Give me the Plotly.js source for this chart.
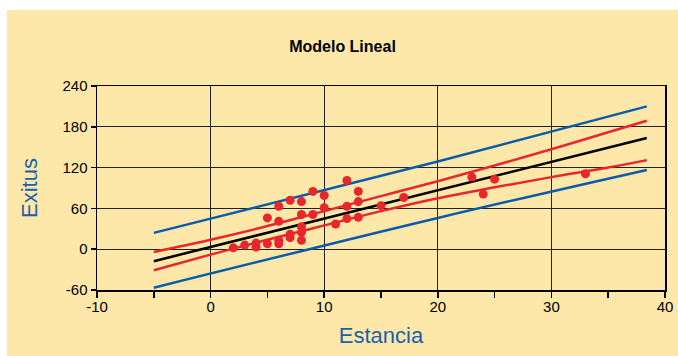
<!DOCTYPE html>
<html>
<head>
<meta charset="utf-8">
<script src="https://cdn.plot.ly/plotly-3.0.1.min.js"></script>
<style>
html,body{margin:0;padding:0;background:#ffffff;width:678px;height:356px;overflow:hidden;}
#chart{position:absolute;left:7px;top:10px;width:671px;height:346px;}
</style>
</head>
<body>
<div id="chart"></div>
<script>
// Observed data (Estancia vs Exitus)
const estancia = [2,3,4,4,5,5,6,6,6,6,7,7,7,8,8,8,8,8,9,9,10,10,11,12,12,12,13,13,13,15,17,23,24,25,33];
const exitus   = [2,6,3,9,46,8,63,41,13,8,72,22,17,70,51,33,25,13,85,51,79,61,37,101,63,45,85,70,47,64,76,106,81,103,111];

// Fitted line
const fitX = [-5, 38.4];
const fitY = [-17.6, 163.5];

// Confidence band (red)
const bandX = [-5, 0, 5, 10, 15, 20, 25, 30, 35, 38.4];
const confUpper = [-4, 14, 34, 56, 78, 100, 123, 147, 172, 189];
const confLower = [-31, -8, 14, 35, 56, 75, 91, 106, 120, 131];

// Prediction band (blue)
const predX = [-5, 20, 38.4];
const predUpper = [24, 129, 210];
const predLower = [-56.6, 46, 116.6];

// Tick labels
const xTickVals = [-10, 0, 10, 20, 30, 40];
const xTickText = ['-10', '0', '10', '20', '30', '40'];
const yTickVals = [-60, 0, 60, 120, 180, 240];
const yTickText = ['-60', '0', '60', '120', '180', '240'];

const RED = '#E8262C', BLUE = '#0B5BAA';

const traces = [
  {x: predX, y: predUpper, mode: 'lines', line: {color: BLUE, width: 2.5, shape: 'spline'}, hoverinfo: 'skip'},
  {x: predX, y: predLower, mode: 'lines', line: {color: BLUE, width: 2.5, shape: 'spline'}, hoverinfo: 'skip'},
  {x: bandX, y: confUpper, mode: 'lines', line: {color: RED, width: 2.5, shape: 'spline'}, hoverinfo: 'skip'},
  {x: bandX, y: confLower, mode: 'lines', line: {color: RED, width: 2.5, shape: 'spline'}, hoverinfo: 'skip'},
  {x: fitX, y: fitY, mode: 'lines', line: {color: '#000000', width: 2.5}, hoverinfo: 'skip'},
  {x: estancia, y: exitus, mode: 'markers', marker: {color: RED, size: 9}}
];

const tickFont = {family: 'Liberation Sans, Arial, sans-serif', size: 15, color: '#000'};

const layout = {
  width: 671, height: 346,
  paper_bgcolor: '#FDE8A9',
  plot_bgcolor: '#FDE8A9',
  showlegend: false,
  margin: {l: 90, r: 13, t: 76, b: 66},
  title: {text: '<b>Modelo Lineal</b>', x: 0.5, xref: 'container', xanchor: 'center',
          y: 0.896, yref: 'container', yanchor: 'middle',
          font: {family: 'Liberation Sans Narrow, Liberation Sans, sans-serif', size: 16, color: '#000'}},
  xaxis: {
    range: [-10, 40], tickmode: 'array', tickvals: xTickVals, ticktext: xTickText,
    showgrid: true, gridcolor: '#222', gridwidth: 1,
    zeroline: false,
    showline: true, linecolor: '#000', linewidth: 1.5, mirror: true,
    ticks: 'outside', ticklen: 6, tickcolor: '#000', tickwidth: 1.5,
    ticklabelstandoff: -4,
    minor: {dtick: 5, tick0: 0, ticks: 'outside', ticklen: 6, tickcolor: '#000', tickwidth: 1.5, showgrid: false},
    tickfont: tickFont,
    title: {text: 'Estancia', font: {family: 'Liberation Sans, sans-serif', size: 22, color: '#1B5FAE'}, standoff: 14}
  },
  yaxis: {
    range: [-60, 240], tickmode: 'array', tickvals: yTickVals, ticktext: yTickText,
    showgrid: true, gridcolor: '#222', gridwidth: 1,
    zeroline: false,
    showline: true, linecolor: '#000', linewidth: 1.5, mirror: true,
    ticks: 'outside', ticklen: 5, tickcolor: '#000', tickwidth: 1.5,
    tickfont: tickFont,
    title: {text: 'Exitus', font: {family: 'Liberation Sans, sans-serif', size: 22, color: '#1B5FAE'}, standoff: 19}
  }
};

Plotly.newPlot('chart', traces, layout, {staticPlot: true, displayModeBar: false});
</script>
</body>
</html>
